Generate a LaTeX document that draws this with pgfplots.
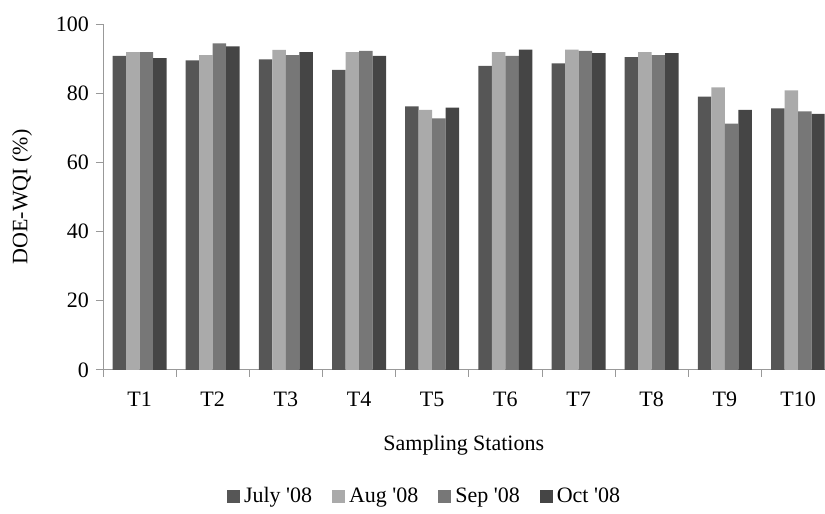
\documentclass[border=0pt]{standalone}
\usepackage{pgfplots}
\pgfplotsset{compat=1.18}
\usepackage{fontspec}
\setmainfont{Liberation Serif}

\definecolor{cjul}{HTML}{565656}
\definecolor{caug}{HTML}{AAAAAA}
\definecolor{csep}{HTML}{777777}
\definecolor{coct}{HTML}{454545}

\begin{document}
\begin{tikzpicture}[font=\fontsize{11}{13}\selectfont]
\begin{axis}[
    at={(0,0)}, anchor=south west,
    scale only axis,
    width=361pt, height=173pt,
    ybar=0pt, bar width=6.75pt,
    xmin=0.5, xmax=10.363,
    ymin=0, ymax=100,
    ytick={0,20,40,60,80,100},
    xtick={0.5,1.5,...,9.5},
    xticklabels={T1,T2,T3,T4,T5,T6,T7,T8,T9,T10},
    xticklabel style={xshift=18.3pt, yshift=-4pt},
    axis lines*=left,
    axis line style={gray!80},
    tick style={gray!80, thin},
    tick align=outside,
    major tick length=3.5pt,
    /pgf/number format/assume math mode=true,
    xlabel={Sampling Stations},
    ylabel={DOE-WQI (\%)},
    xlabel style={at={(axis description cs:0.5,-0.217)}, anchor=center},
    ylabel style={at={(axis description cs:-0.112,0.5)}, anchor=center},
    legend style={at={(0.447,-0.367)}, anchor=center, draw=none,
        legend columns=4,
        /tikz/every even column/.append style={column sep=8pt}},
    legend image code/.code={\fill[#1] (0pt,-3.2pt) rectangle (6.5pt,3.2pt);},
]
\addplot[fill=cjul, draw=none] coordinates {
    (1,90.8) (2,89.5) (3,89.8) (4,86.7) (5,76.2)
    (6,87.9) (7,88.6) (8,90.4) (9,79.0) (10,75.6)};
\addplot[fill=caug, draw=none] coordinates {
    (1,91.9) (2,91.0) (3,92.5) (4,91.9) (5,75.2)
    (6,91.9) (7,92.6) (8,91.9) (9,81.7) (10,80.8)};
\addplot[fill=csep, draw=none] coordinates {
    (1,91.9) (2,94.4) (3,91.0) (4,92.2) (5,72.7)
    (6,90.8) (7,92.2) (8,91.0) (9,71.2) (10,74.7)};
\addplot[fill=coct, draw=none] coordinates {
    (1,90.1) (2,93.5) (3,91.9) (4,90.8) (5,75.8)
    (6,92.6) (7,91.6) (8,91.6) (9,75.2) (10,74.0)};
\legend{July \textquotesingle08, Aug \textquotesingle08, Sep \textquotesingle08, Oct \textquotesingle08}
\end{axis}
\path (-51.5pt,-71.5pt) rectangle (361pt,185pt);
\end{tikzpicture}
\end{document}
